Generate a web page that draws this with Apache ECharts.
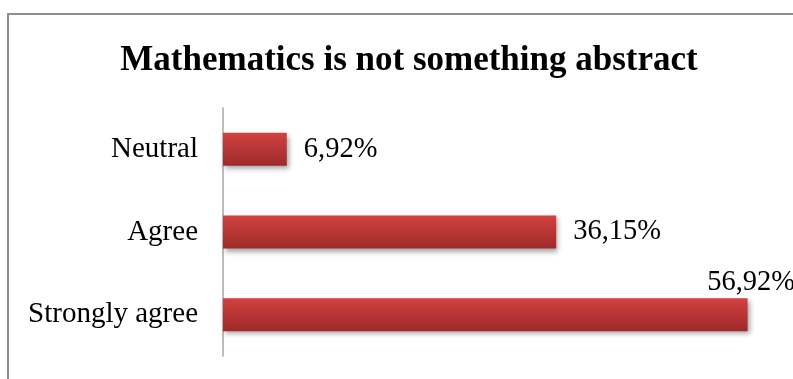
<!DOCTYPE html>
<html>
<head>
<meta charset="utf-8">
<script src="https://cdn.jsdelivr.net/npm/echarts@6/dist/echarts.min.js"></script>
<style>
  html, body { margin: 0; padding: 0; background: #fff; }
  #chart { width: 793px; height: 379px; }
</style>
</head>
<body>
<div id="chart"></div>
<script>
// Survey answers, bottom to top on the category axis
const categories = ['Strongly agree', 'Agree', 'Neutral'];
const shares = [56.92, 36.15, 6.92];
const titleText = 'Mathematics is not something abstract';

const fmt = v => v.toFixed(2).replace('.', ',') + '%';

const barFill = new echarts.graphic.LinearGradient(0, 0, 0, 1, [
  { offset: 0, color: '#d2413f' },
  { offset: 1, color: '#9d2a2a' }
]);

const data = shares.map((v, i) => {
  const item = { value: v };
  if (i === 0) {
    // the longest bar carries its label above its right end
    item.label = {
      position: ['92.3%', -16],
      align: 'left',
      verticalAlign: 'middle'
    };
  }
  return item;
});

const chart = echarts.init(document.getElementById('chart'));
chart.setOption({
  animation: false,
  backgroundColor: '#fff',
  graphic: [{
    type: 'rect',
    shape: { x: 8, y: 14, width: 900, height: 500 },
    style: { fill: 'none', stroke: '#8e8e8e', lineWidth: 2 },
    silent: true
  }],
  title: {
    text: titleText,
    left: 404,
    textAlign: 'center',
    top: 38,
    textStyle: {
      fontFamily: 'Liberation Serif',
      fontWeight: 'bold',
      fontSize: 35,
      color: '#000'
    }
  },
  grid: { left: 223, top: 108, width: 553, height: 248, containLabel: false },
  xAxis: {
    type: 'value',
    min: 0,
    max: 60,
    show: false
  },
  yAxis: {
    type: 'category',
    data: categories,
    axisLine: { show: true, lineStyle: { color: '#a6a6a6', width: 1.5 } },
    axisTick: { show: false },
    axisLabel: {
      margin: 25,
      fontFamily: 'Liberation Serif',
      fontSize: 29,
      color: '#000'
    },
    splitLine: { show: false }
  },
  series: [{
    type: 'bar',
    data: data,
    barWidth: '40%',
    itemStyle: {
      color: barFill,
      shadowColor: 'rgba(0,0,0,0.35)',
      shadowBlur: 5,
      shadowOffsetX: 2,
      shadowOffsetY: 3
    },
    label: {
      show: true,
      position: 'right',
      distance: 17,
      formatter: p => fmt(p.value),
      fontFamily: 'Liberation Serif',
      fontSize: 28.5,
      color: '#000'
    }
  }]
});
</script>
</body>
</html>
